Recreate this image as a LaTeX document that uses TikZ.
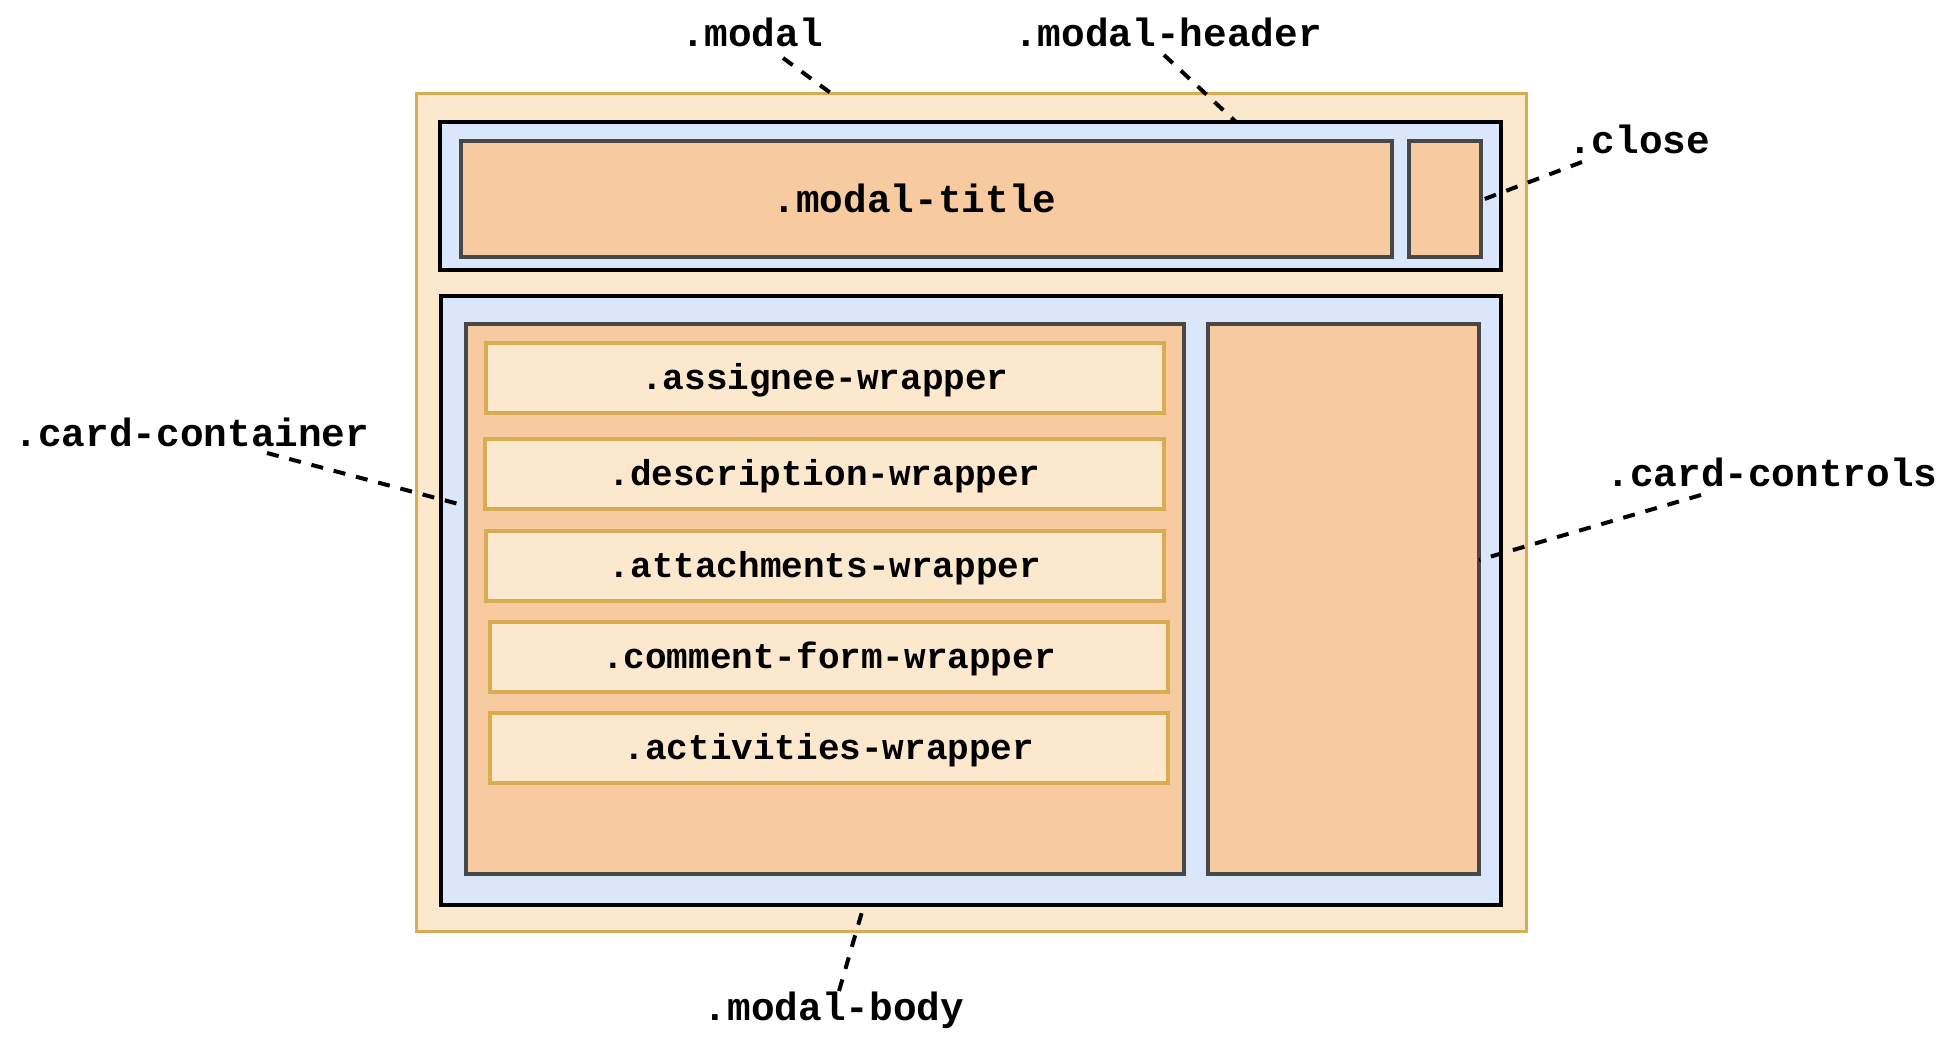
\documentclass[tikz,border=0pt]{standalone}
\usepackage{fontspec}
\newfontfamily\lmono{Liberation Mono}
\usetikzlibrary{fit,calc}
\definecolor{outerfill}{HTML}{FCE8CC}
\definecolor{outerline}{HTML}{D9AB52}
\definecolor{bluefill}{HTML}{DAE7FA}
\definecolor{peach}{HTML}{F7CB9F}
\definecolor{darkline}{HTML}{484848}
\begin{document}
\begin{tikzpicture}[x=0.5pt,y=-0.5pt,
  outerbox/.style={draw=outerline,fill=outerfill,line width=1.5pt,inner sep=0pt},
  bluebox/.style={draw=black,fill=bluefill,line width=2pt,inner sep=0pt},
  peachbox/.style={draw=darkline,fill=peach,line width=2pt,inner sep=0pt},
  wrapbox/.style={draw=outerline,fill=outerfill,line width=2pt,inner sep=0pt},
  lbl/.style={anchor=base,inner sep=0pt,font=\lmono\bfseries\fontsize{19.7}{24}\selectfont},
  wraptxt/.style={anchor=base,inner sep=0pt,font=\lmono\bfseries\fontsize{18}{22}\selectfont},
  leader/.style={draw=black,line width=2pt,dash pattern=on 6pt off 5.5pt}]
\useasboundingbox (0,0) rectangle (1950,1043);
% boxes
\node[outerbox,fit={(416,94) (1526,931)}] (modal) {};
\node[bluebox,fit={(440,122) (1501,270)}] (header) {};
\node[peachbox,fit={(461,141) (1392,257)}] (title) {};
\node[peachbox,fit={(1409,141) (1481,257)}] (close) {};
\node[bluebox,fit={(441,296) (1501,905)}] (body) {};
\node[peachbox,fit={(466,324) (1184,874)}] (container) {};
\node[peachbox,fit={(1208,324) (1479,874)}] (controls) {};
\node[wrapbox,fit={(486,343) (1164,413)}] (assignee) {};
\node[wrapbox,fit={(485,439) (1164,509)}] (description) {};
\node[wrapbox,fit={(486,531) (1164,601)}] (attachments) {};
\node[wrapbox,fit={(490,622) (1168,692)}] (comment) {};
\node[wrapbox,fit={(490,713) (1168,783)}] (activities) {};
% texts in boxes
\node[lbl] (titletxt) at ($(title.center)+(-12,14)$) {.modal-title};
\node[wraptxt] (t1) at ($(assignee.center)+(0,11)$) {.assignee-wrapper};
\node[wraptxt] (t2) at ($(description.center)+(0,11)$) {.description-wrapper};
\node[wraptxt] (t3) at ($(attachments.center)+(0,11)$) {.attachments-wrapper};
\node[wraptxt] (t4) at ($(comment.center)+(0,11)$) {.comment-form-wrapper};
\node[wraptxt] (t5) at ($(activities.center)+(0,11)$) {.activities-wrapper};
% outside labels
\node[lbl] (lmodal) at (752,47) {.modal};
\node[lbl] (lheader) at (1168,47) {.modal-header};
\node[lbl] (lclose) at (1639,154) {.close};
\node[lbl] (lcontainer) at (192,446) {.card-container};
\node[lbl] (lcontrols) at (1772,486) {.card-controls};
\node[lbl] (lbody) at (834,1020) {.modal-body};
% leader ends
\coordinate (smodal) at (783,58);
\coordinate (emodal) at (832,94);
\coordinate (sheader) at (1164,55);
\coordinate (eheader) at (1236,122);
\coordinate (sclose) at (1582,162);
\coordinate (eclose) at (1482,200);
\coordinate (scont) at (267,453);
\coordinate (econt) at (466,506);
\coordinate (sctrl) at (1701,495);
\coordinate (ectrl) at (1479,560);
\coordinate (sbody) at (839,991);
\coordinate (ebody) at (864,905);
\draw[leader] (smodal) -- (emodal);
\draw[leader] (sheader) -- (eheader);
\draw[leader] (sclose) -- (eclose);
\draw[leader] (scont) -- (econt);
\draw[leader] (sctrl) -- (ectrl);
\draw[leader] (sbody) -- (ebody);
\end{tikzpicture}
\end{document}
